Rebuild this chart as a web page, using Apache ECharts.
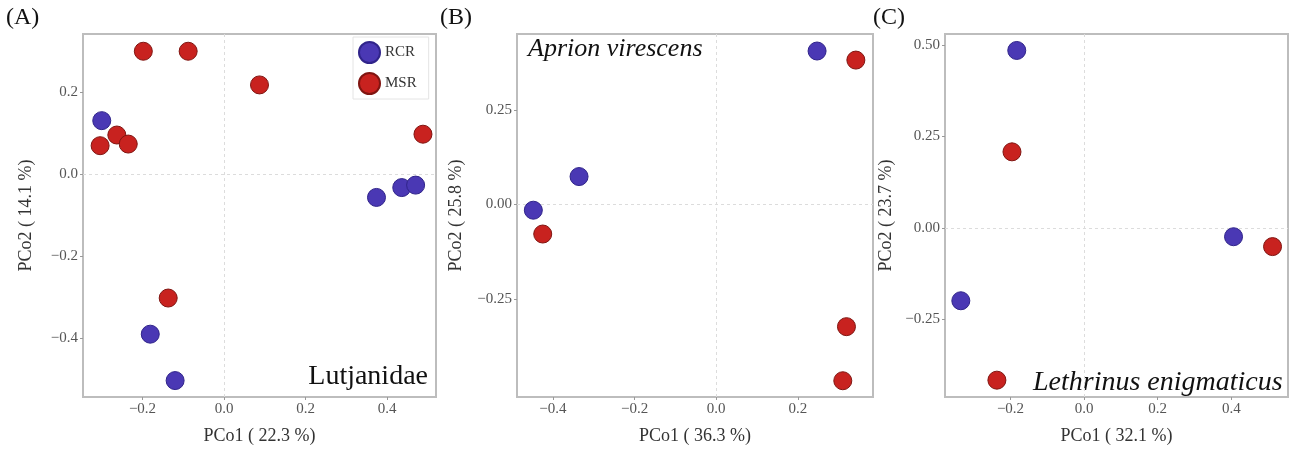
<!DOCTYPE html>
<html>
<head>
<meta charset="utf-8">
<script src="https://cdn.jsdelivr.net/npm/echarts@6/dist/echarts.min.js"></script>
<style>html,body{margin:0;padding:0;background:#fff}#c{width:1290px;height:450px}</style>
</head>
<body>
<div id="c"></div>
<script>
// Panel A: Lutjanidae
const aRCR = [[-0.300,0.130],[0.374,-0.057],[0.436,-0.033],[0.470,-0.027],[-0.181,-0.390],[-0.120,-0.503]];
const aMSR = [[-0.198,0.299],[-0.088,0.299],[0.087,0.217],[0.488,0.097],[-0.304,0.069],[-0.263,0.095],[-0.235,0.073],[-0.137,-0.302]];
// Panel B: Aprion virescens
const bRCR = [[-0.448,-0.015],[-0.336,0.074],[0.247,0.406]];
const bMSR = [[-0.425,-0.078],[0.342,0.382],[0.319,-0.323],[0.310,-0.466]];
// Panel C: Lethrinus enigmaticus
const cRCR = [[-0.183,0.485],[0.406,-0.024],[-0.335,-0.199]];
const cMSR = [[-0.196,0.208],[0.512,-0.051],[-0.237,-0.416]];

const xTicksA = [-0.2,0,0.2,0.4], yTicksA = [-0.4,-0.2,0,0.2];
const xTicksB = [-0.4,-0.2,0,0.2], yTicksB = [-0.25,0,0.25];
const xTicksC = [-0.2,0,0.2,0.4], yTicksC = [-0.25,0,0.25,0.5];
const xTitles = ['PCo1 ( 22.3 %)','PCo1 ( 36.3 %)','PCo1 ( 32.1 %)'];
const yTitles = ['PCo2 ( 14.1 %)','PCo2 ( 25.8 %)','PCo2 ( 23.7 %)'];
const panelLabels = ['(A)','(B)','(C)'];
const seriesNames = ['RCR','MSR'];

const FONT = '"Liberation Serif","DejaVu Serif",serif';
const BLUE = '#4a38b4', RED = '#c8221f';

function fmt(dec){ return v => (v<0?'\u2212':'') + Math.abs(v).toFixed(dec); }

const grids = [
  {left:83, top:34, width:353, height:363},
  {left:517, top:34, width:356, height:363},
  {left:945, top:34, width:343, height:370}
];
const xRanges = [[-0.346,0.52],[-0.488,0.384],[-0.378,0.554]];
const yRanges = [[-0.543,0.341],[-0.509,0.451],[-0.462,0.530]];
const xT = [xTicksA,xTicksB,xTicksC], yT=[yTicksA,yTicksB,yTicksC];
const yDec = [1,2,2];
const yGap = [48,52,50];

const xAxis = [], yAxis = [], series = [];
grids.forEach((g,i)=>{
  xAxis.push({
    type:'value', gridIndex:i, min:xRanges[i][0], max:xRanges[i][1],
    name:xTitles[i], nameLocation:'middle', nameGap:30,
    nameTextStyle:{fontFamily:FONT,fontSize:18,color:'#333'},
    axisLine:{show:false, onZero:false}, splitLine:{show:false},
    axisTick:{show:true, length:3, customValues:xT[i], lineStyle:{color:'#999'}},
    axisLabel:{customValues:xT[i], formatter:fmt(1), fontFamily:FONT, fontSize:15, color:'#555', margin:5}
  });
  yAxis.push({
    type:'value', gridIndex:i, min:yRanges[i][0], max:yRanges[i][1],
    name:yTitles[i], nameLocation:'middle', nameGap:yGap[i], nameRotate:90,
    nameTextStyle:{fontFamily:FONT,fontSize:18,color:'#333'},
    axisLine:{show:false, onZero:false}, splitLine:{show:false},
    axisTick:{show:true, length:3, customValues:yT[i], lineStyle:{color:'#999'}},
    axisLabel:{customValues:yT[i], formatter:fmt(yDec[i]), fontFamily:FONT, fontSize:15, color:'#555', margin:5}
  });
});
const data = [[aRCR,aMSR],[bRCR,bMSR],[cRCR,cMSR]];
data.forEach((pair,i)=>{
  pair.forEach((d,j)=>{
    const s = {
      type:'scatter', name:seriesNames[j], xAxisIndex:i, yAxisIndex:i, data:d,
      symbolSize:18, z:3,
      itemStyle:{color:j===0?BLUE:RED, borderColor:j===0?'#30248a':'#801511', borderWidth:1, opacity:1}
    };
    if(j===0){
      s.markLine = {silent:true, symbol:'none', label:{show:false}, z:1,
        lineStyle:{type:[3,3], color:'#dcdcdc', width:1},
        data:[{xAxis:0},{yAxis:0}]};
    }
    series.push(s);
  });
});

const graphic = [];
const labelX = [6,440,873];
panelLabels.forEach((t,i)=>graphic.push({type:'text', left:labelX[i], top:6,
  style:{text:t, font:'24px '+FONT, fill:'#111'}}));
graphic.push({type:'text', right:1290-428, top:363, style:{text:'Lutjanidae', font:'28px '+FONT, fill:'#111'}});
graphic.push({type:'text', left:528, top:36, style:{text:'Aprion virescens', font:'italic 26px '+FONT, fill:'#111'}});
graphic.push({type:'text', left:1033, top:369, style:{text:'Lethrinus enigmaticus', font:'italic 28px '+FONT, fill:'#111'}});

const chart = echarts.init(document.getElementById('c'));
chart.setOption({
  animation:false,
  backgroundColor:'#fff',
  grid: grids.map(g=>Object.assign({show:true, borderColor:'#bdbdbd', borderWidth:2, backgroundColor:'#fff'}, g)),
  xAxis, yAxis, series, graphic,
  legend:{
    data:seriesNames, orient:'vertical', left:353, top:37,
    icon:'circle', itemWidth:21, itemHeight:21, itemGap:8,
    backgroundColor:'#fff', borderColor:'#e4e4e4', borderWidth:1, padding:[4,12,4,5],
    textStyle:{fontFamily:FONT, fontSize:15, color:'#333'},
    selectedMode:false
  }
});
</script>
</body>
</html>
